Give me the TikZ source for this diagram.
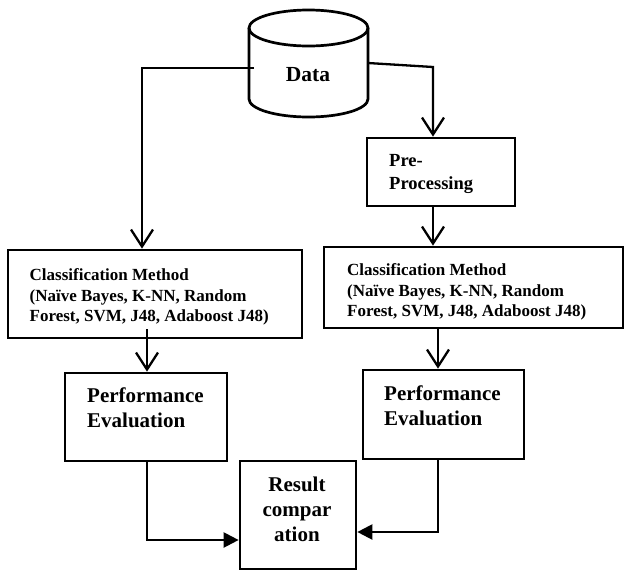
\documentclass[tikz,border=0pt]{standalone}
\usepackage{fontspec}
\setmainfont{Liberation Serif}
\usetikzlibrary{arrows.meta,calc}

\tikzset{
  boxline/.style={line width=2.7pt},
  stepbox/.style={draw, boxline, rectangle, inner sep=0pt},
  conn/.style={line width=2.3pt},
  openarrow/.style={conn, -{Straight Barb[length=17pt,width=22pt,line width=2.3pt]}},
  filledarrow/.style={conn, -{Triangle[length=15pt,width=15pt]}},
  % multi-line texts are placed by the baseline of their last line
  smalltxt/.style={font=\bfseries\fontsize{17}{20.5}\selectfont, align=left, inner sep=0pt, anchor=base west},
  bigtxt/.style={font=\bfseries\fontsize{21}{25}\selectfont, align=left, inner sep=0pt, anchor=base west},
}

\begin{document}
\begin{tikzpicture}[x=1pt, y=-1pt]
  \useasboundingbox (0,0) rectangle (625,571);
  \fill[white] (0,0) rectangle (625,571);

  % data store cylinder
  \draw[boxline] (308.5,28) ellipse[x radius=59.5, y radius=18];
  \draw[boxline] (249,28) -- (249,99) arc[start angle=180, end angle=0, x radius=59.5, y radius=18] -- (368,28);
  \node[font=\bfseries\fontsize{21.5}{25}\selectfont, inner sep=0pt, anchor=base] (data) at (308,81) {Data};
  \coordinate (dl) at (254,68);
  \coordinate (dr) at (368,63);
  \coordinate (drb) at (433,67);

  % boxes
  \node[stepbox, minimum width=294pt, minimum height=88pt] (c1) at (155,294) {};
  \node[stepbox, minimum width=148pt, minimum height=68pt] (pre) at (441,172) {};
  \node[stepbox, minimum width=299pt, minimum height=81pt] (c2) at (473.5,287.5) {};
  \node[stepbox, minimum width=162pt, minimum height=88pt] (p1) at (146,417) {};
  \node[stepbox, minimum width=161pt, minimum height=89pt] (p2) at (443.5,414.5) {};
  \node[stepbox, minimum width=116pt, minimum height=108pt] (r) at (298,515) {};

  % box texts
  \node[smalltxt] (c1t) at (29.5,321.7) {Classification Method\\(Naïve Bayes, K-NN, Random\\Forest, SVM, J48, Adaboost J48)};
  \node[smalltxt] (c2t) at (347,316.7) {Classification Method\\(Naïve Bayes, K-NN, Random\\Forest, SVM, J48, Adaboost J48)};
  \node[font=\bfseries\fontsize{18.5}{23}\selectfont, align=left, inner sep=0pt, anchor=base west] (pret) at (389,189.7) {Pre-\\Processing};
  \node[bigtxt] (p1t) at (87,427.7) {Performance\\Evaluation};
  \node[bigtxt] (p2t) at (384,425.7) {Performance\\Evaluation};
  \node[bigtxt, align=center, anchor=base] (rt) at (297,541.7) {Result\\compar\\ation};

  % connectors
  \draw[openarrow] (dl) -| ($(c1.north)+(-13,0)$);
  \draw[openarrow] (dr) -- (drb) -- (drb |- pre.north);
  \draw[openarrow] (pre.south -| drb) -- (c2.north -| drb);
  \draw[openarrow] ($(c1.south)+(-8,-10)$) -- ($(p1.north)+(1,0)$);
  \draw[openarrow] ($(c2.south)+(-35.5,0)$) -- ($(p2.north)+(-5.5,0)$);
  \draw[filledarrow] ($(p1.south)+(1,0)$) |- ($(r.west)+(0,25)$);
  \draw[filledarrow] ($(p2.south)+(-5.5,0)$) |- ($(r.east)+(0,17)$);
\end{tikzpicture}
\end{document}
